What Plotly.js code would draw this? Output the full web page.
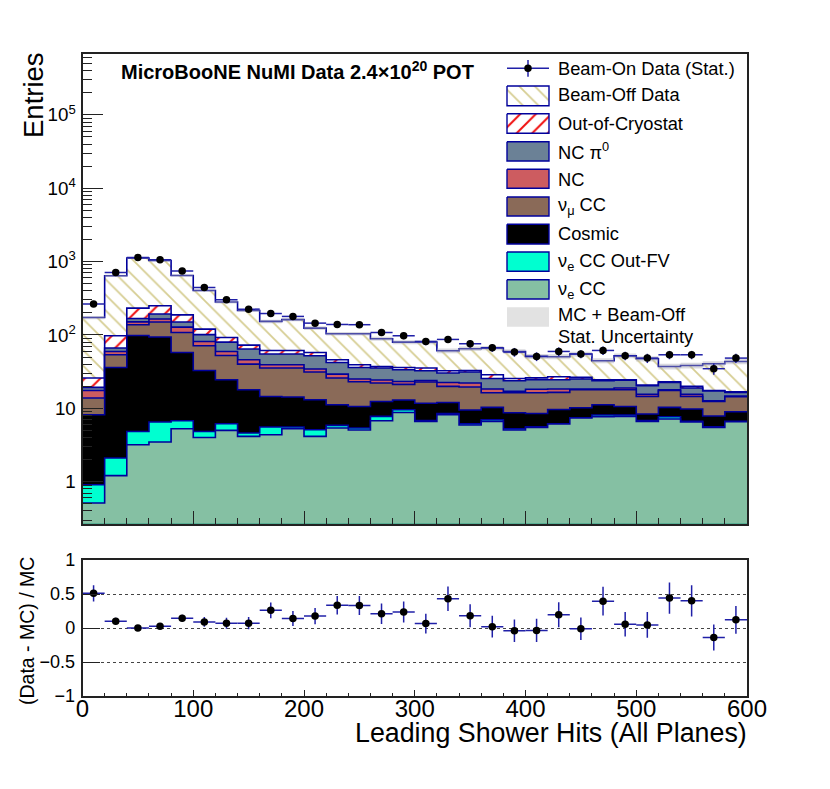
<!DOCTYPE html>
<html>
<head>
<meta charset="utf-8">
<script src="https://cdn.plot.ly/plotly-3.0.1.min.js"></script>
<style>body{margin:0;background:#fff}</style>
</head>
<body>
<div id="chart" style="width:830px;height:789px"></div>
<script>
// bin edges, 20 hits wide
const edges = [0,20,40,60,80,100,120,140,160,180,200,220,240,260,280,300,320,340,360,380,400,420,440,460,480,500,520,540,560,580,600]
const centers = [10,30,50,70,90,110,130,150,170,190,210,230,250,270,290,310,330,350,370,390,410,430,450,470,490,510,530,550,570,590]

// stacked histogram tops (each includes everything below it)
const nueCC = [0.513,1.21,3.19,3.47,5.27,4.01,5.0,4.14,4.37,5.27,4.14,5.39,5.06,6.78,8.79,6.63,8.18,5.92,6.63,5.06,5.47,6.11,7.38,7.68,7.76,6.63,7.15,6.51,5.49,6.57]
const nueOutFV = [0.91,2.10,4.84,6.51,6.78,4.84,6.17,4.61,5.56,5.56,5.11,5.85,5.39,7.76,9.57,6.84,8.52,6.17,6.99,5.27,5.61,6.17,7.45,8.11,8.11,6.84,7.68,6.63,5.61,6.63]
const cosmic = [8.18,36.1,98.4,93.6,57.8,32.8,24.5,17.9,14.5,14.3,13.1,11.2,10.6,12.4,13.0,11.7,12.0,9.48,10.3,8.71,8.52,9.66,10.2,11.2,10.6,8.37,10.3,9.78,7.85,8.99]
const numuCC = [13.8,53.7,138,150,108,71.3,52.6,40.1,35.4,35.4,31.2,25.9,23.0,22.1,21.2,22.8,19.9,19.5,16.3,16.3,16.3,16.5,17.9,17.9,17.9,14.5,17.5,14.5,12.4,14.4]
const nc = [17.5,59.6,151,165,128,81.5,59.6,45.9,39.3,39.3,34.3,29.3,25.1,24.3,23.2,24.0,22.5,22.1,18.3,17.0,18.2,18.3,18.3,18.3,18.9,15.5,17.9,15.5,12.7,14.7]
const ncPi0 = [19.3,66.3,168,193,150,101,80,64.3,55,55,52.1,42.2,36.1,35.4,33.6,32.5,30.3,31.2,25.5,23.8,24.5,24.5,25.1,23.8,24.2,20.3,22.5,18.9,17.2,16.5]
const outOfCryo = [25.9,97.5,232,250,188,120,92.4,72.8,61.5,61.5,57.8,45.9,39.3,37.2,36.1,35.4,32.5,32.8,28.7,25.5,26,27,26.4,24.5,24.5,20.8,23,19.9,17.5,16.8]
const beamOff = [173,641,1116,1035,647,404,281,216,153,162,124,104,104,88.8,80,80,60.9,64.9,66.3,59.6,51,50.5,55,44.5,52.1,47.4,37.2,38.4,40.5,43.5]
const totalErr = [9,20,30,28,18,14,12,10,8,8,7,6,6,5.5,5,5,4.5,4.5,4.5,4.2,4,4,4,3.5,4,3.8,3.3,3.4,3.4,3.5]

const dataVals = [264,711,1138,1059,743,444,302,225,196,179,145,139,138,108,97.5,81.5,86.9,75.9,66.9,58.5,51,59.6,55,61.5,52.1,48.4,53.7,53.7,34.7,48.4]
const dataErr = [16,27,34,33,27,21,17,15,14,13,12,12,12,10,10,9,9,9,8,8,7,8,7,8,7,7,7,7,6,7]

const ratio = [0.51,0.10,0,0.025,0.145,0.09,0.07,0.07,0.26,0.14,0.175,0.335,0.33,0.21,0.235,0.065,0.43,0.18,0.02,-0.04,-0.035,0.195,-0.01,0.395,0.055,0.045,0.44,0.40,-0.14,0.12]
const ratioErr = [0.12,0.05,0.03,0.03,0.05,0.07,0.08,0.09,0.115,0.11,0.12,0.135,0.14,0.15,0.155,0.145,0.18,0.17,0.16,0.165,0.17,0.185,0.165,0.21,0.18,0.19,0.23,0.23,0.19,0.205]

const navy = '#00009c'
const hatchOff = {shape: '\\', size: 11, solidity: 0.16, fgcolor: '#d6cd92', bgcolor: '#ffffff'}
const hatchCryo = {shape: '/', size: 11, solidity: 0.18, fgcolor: '#f01010', bgcolor: '#ffffff'}

step_trace = (vals, color, pattern) => {
    let t = {
        x: edges,
        y: vals.concat(vals[vals.length - 1]),
        mode: 'lines',
        type: 'scatter',
        fill: 'tozeroy',
        fillcolor: color,
        line: {shape: 'hv', color: navy, width: 1.6},
        hoverinfo: 'skip',
        showlegend: false
    }
    if (pattern) t.fillpattern = pattern
    return t
}

// grey stat. band round the stack total
band_x = []
band_y = []
for (i = 0; i < beamOff.length; i++) {
    band_x.push(edges[i], edges[i + 1])
    band_y.push(beamOff[i] + totalErr[i], beamOff[i] + totalErr[i])
}
for (i = beamOff.length - 1; i >= 0; i--) {
    band_x.push(edges[i + 1], edges[i])
    band_y.push(beamOff[i] - totalErr[i], beamOff[i] - totalErr[i])
}

let traces = [
    step_trace(beamOff, '#ffffff', hatchOff),
    step_trace(outOfCryo, '#ffffff', hatchCryo),
    step_trace(ncPi0, '#6b8196'),
    step_trace(nc, '#cd5c60'),
    step_trace(numuCC, '#8a6a58'),
    step_trace(cosmic, '#000000'),
    step_trace(nueOutFV, '#00ffd0'),
    step_trace(nueCC, '#85c0a3'),
    {x: band_x, y: band_y, mode: 'none', type: 'scatter', fill: 'toself', fillcolor: 'rgba(170,170,185,0.45)', hoverinfo: 'skip', showlegend: false},
    {
        x: centers, y: dataVals, mode: 'markers', type: 'scatter', name: 'Beam-On Data (Stat.)', showlegend: false,
        marker: {color: '#000000', size: 7.5},
        error_x: {type: 'constant', value: 10, width: 0, color: '#2020a8', thickness: 1.5},
        error_y: {type: 'data', array: dataErr, width: 0, color: '#2020a8', thickness: 1.5}
    },
    {
        x: centers, y: ratio, xaxis: 'x2', yaxis: 'y2', mode: 'markers', type: 'scatter', name: '(Data - MC) / MC', showlegend: false,
        marker: {color: '#000000', size: 7.5},
        error_x: {type: 'constant', value: 10, width: 0, color: '#2020a8', thickness: 1.5},
        error_y: {type: 'data', array: ratioErr, width: 0, color: '#2020a8', thickness: 1.5}
    }
]

// legend is drawn by hand on a pixel overlay, plotly's own swatches are too small for this
key_box = (top, bottom, color, pattern) => {
    let t = {
        x: [507, 549, 549, 507, 507], y: [top, top, bottom, bottom, top],
        xaxis: 'x3', yaxis: 'y3', mode: 'lines', type: 'scatter', fill: 'toself', fillcolor: color,
        line: {color: navy, width: 1.4}, hoverinfo: 'skip', showlegend: false
    }
    if (pattern) t.fillpattern = pattern
    return t
}
traces.push(
    {x: [507, 549], y: [68.3, 68.3], xaxis: 'x3', yaxis: 'y3', mode: 'lines', type: 'scatter', line: {color: '#2020a8', width: 1.5}, hoverinfo: 'skip', showlegend: false},
    {x: [528, 528], y: [60, 76.7], xaxis: 'x3', yaxis: 'y3', mode: 'lines', type: 'scatter', line: {color: '#2020a8', width: 1.5}, hoverinfo: 'skip', showlegend: false},
    {x: [528], y: [68.3], xaxis: 'x3', yaxis: 'y3', mode: 'markers', type: 'scatter', marker: {color: '#000000', size: 7.5}, hoverinfo: 'skip', showlegend: false},
    key_box(86, 105.7, '#ffffff', hatchOff),
    key_box(113.7, 133.3, '#ffffff', hatchCryo),
    key_box(141.7, 161, '#6b8196'),
    key_box(169.3, 188.3, '#cd5c60'),
    key_box(197, 216, '#8a6a58'),
    key_box(224.3, 244, '#000000'),
    key_box(252, 271.3, '#00ffd0'),
    key_box(279.7, 299, '#85c0a3'),
    {x: [507, 549, 549, 507], y: [307.3, 307.3, 326.7, 326.7], xaxis: 'x3', yaxis: 'y3', mode: 'none', type: 'scatter', fill: 'toself', fillcolor: '#e2e2e2', hoverinfo: 'skip', showlegend: false}
)

const font = 'Liberation Sans'
const legendTexts = [
    ['Beam-On Data (Stat.)', 68],
    ['Beam-Off Data', 94.5],
    ['Out-of-Cryostat', 123],
    ['NC π<sup>0</sup>', 151],
    ['NC', 179],
    ['ν<sub>μ</sub> CC', 206],
    ['Cosmic', 233.5],
    ['ν<sub>e</sub> CC Out-FV', 262],
    ['ν<sub>e</sub> CC', 290],
    ['MC + Beam-Off', 314.5],
    ['Stat. Uncertainty', 336]
]
let notes = legendTexts.map(r => ({
    text: r[0], xref: 'paper', yref: 'paper', x: 556 / 830, y: 1 - r[1] / 789,
    xanchor: 'left', yanchor: 'middle', showarrow: false, font: {family: font, size: 18.3, color: '#000'}
}))
notes.push(
    {text: '<b>MicroBooNE NuMI Data 2.4×10<sup>20</sup> POT</b>', xref: 'paper', yref: 'paper', x: 119 / 830, y: 1 - 71 / 789, xanchor: 'left', yanchor: 'middle', showarrow: false, font: {family: font, size: 20, color: '#000'}},
    {text: 'Entries', xref: 'paper', yref: 'paper', x: 33 / 830, y: 1 - 95 / 789, xanchor: 'center', yanchor: 'middle', textangle: -90, showarrow: false, font: {family: font, size: 27.5, color: '#000'}},
    {text: '(Data - MC) / MC', xref: 'paper', yref: 'paper', x: 27 / 830, y: 1 - 631 / 789, xanchor: 'center', yanchor: 'middle', textangle: -90, showarrow: false, font: {family: font, size: 19.5, color: '#000'}},
    {text: 'Leading Shower Hits (All Planes)', xref: 'paper', yref: 'paper', x: 749 / 830, y: 1 - 733 / 789, xanchor: 'right', yanchor: 'middle', showarrow: false, font: {family: font, size: 26.8, color: '#000'}}
)

const xDomain = [82.5 / 830, 747 / 830]
var layout = {
    width: 830,
    height: 789,
    margin: {l: 0, r: 0, t: 0, b: 0},
    paper_bgcolor: '#ffffff',
    plot_bgcolor: '#ffffff',
    showlegend: false,
    font: {family: font, color: '#000'},
    annotations: notes,
    xaxis: {
        domain: xDomain, range: [0, 600], anchor: 'y', showgrid: false, zeroline: false,
        showline: true, mirror: true, linecolor: '#222', linewidth: 1.5,
        ticks: 'inside', tick0: 0, dtick: 100, ticklen: 13, tickcolor: '#222', showticklabels: false,
        minor: {ticks: 'inside', dtick: 20, ticklen: 6, tickcolor: '#222', showgrid: false}
    },
    yaxis: {
        domain: [1 - 523.5 / 789, 1 - 54 / 789], range: [-0.57, 5.83], type: 'log', anchor: 'x', showgrid: false, zeroline: false,
        showline: true, mirror: true, linecolor: '#222', linewidth: 1.5,
        ticks: 'inside', dtick: 1, ticklen: 21, tickcolor: '#222', exponentformat: 'power', tickfont: {size: 15}, ticklabelstandoff: 2,
        minor: {ticks: 'inside', dtick: 'D1', ticklen: 10, tickcolor: '#222', showgrid: false}
    },
    xaxis2: {
        domain: xDomain, range: [0, 600], anchor: 'y2', showgrid: false, zeroline: false,
        showline: true, mirror: true, linecolor: '#222', linewidth: 1.5,
        ticks: 'inside', tick0: 0, dtick: 100, ticklen: 6, tickcolor: '#222', tickfont: {size: 24}, ticklabelstandoff: -10,
        minor: {ticks: 'inside', dtick: 20, ticklen: 3, tickcolor: '#222', showgrid: false}
    },
    yaxis2: {
        domain: [1 - 696 / 789, 1 - 560 / 789], range: [-1, 1], anchor: 'x2', zeroline: false,
        showline: true, mirror: true, linecolor: '#222', linewidth: 1.5,
        showgrid: true, griddash: 'dot', gridcolor: '#444', gridwidth: 1,
        ticks: 'inside', tickvals: [-1, -0.5, 0, 0.5, 1], ticktext: ['−1', '−0.5', '0', '0.5', '1'], ticklen: 18, tickcolor: '#222', tickfont: {size: 18}, ticklabelstandoff: 2
    },
    // pixel overlay for the legend keys, ranges are the plot area's own pixels
    xaxis3: {range: [82.5, 747], anchor: 'y3', overlaying: 'x', visible: false, fixedrange: true},
    yaxis3: {range: [523.5, 54], anchor: 'x3', overlaying: 'y', visible: false, fixedrange: true}
}

Plotly.newPlot('chart', traces, layout, {responsive: false, displayModeBar: false})
</script>
</body>
</html>
